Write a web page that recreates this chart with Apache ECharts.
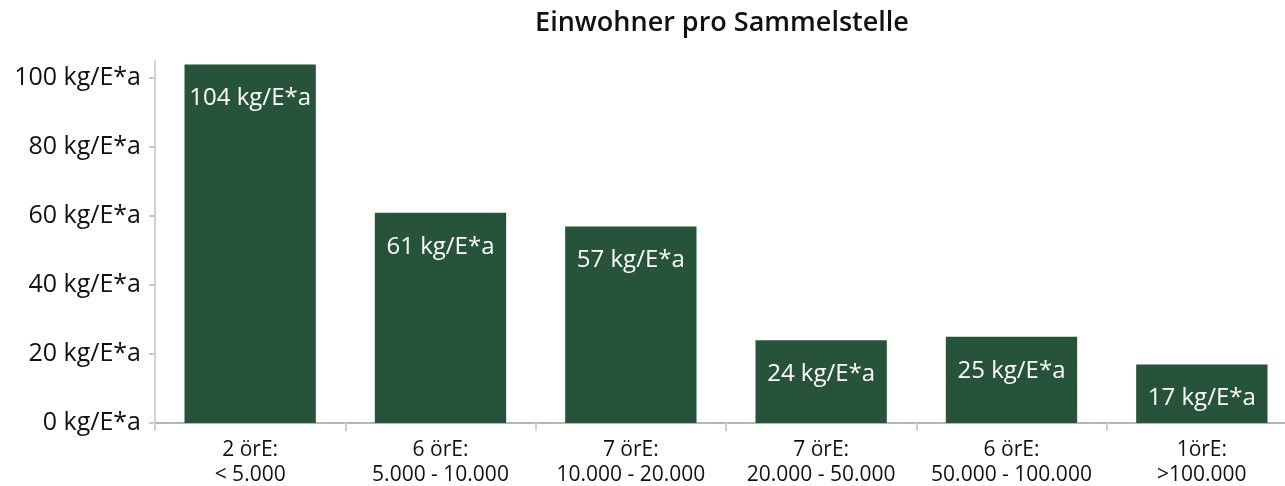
<!DOCTYPE html>
<html>
<head>
<meta charset="utf-8">
<style>
  html, body { margin: 0; padding: 0; background: #fff; }
  #chart { width: 1285px; height: 486px; }
</style>
<script src="https://cdn.jsdelivr.net/npm/echarts@6/dist/echarts.min.js"></script>
</head>
<body>
<div id="chart"></div>
<script>
// Collection volume per inhabitant, grouped by municipality size class
const title = 'Einwohner pro Sammelstelle';
const categories = [
  '2 örE:\n< 5.000',
  '6 örE:\n5.000 - 10.000',
  '7 örE:\n10.000 - 20.000',
  '7 örE:\n20.000 - 50.000',
  '6 örE:\n50.000 - 100.000',
  '1örE:\n>100.000'
];
const values = [104, 61, 57, 24, 25, 17];
const yTicks = [0, 20, 40, 60, 80, 100];
const unit = ' kg/E*a';

const font = '"Open Sans", "Noto Sans", sans-serif';
const chart = echarts.init(document.getElementById('chart'));

chart.setOption({
  backgroundColor: '#ffffff',
  animation: false,
  title: {
    text: title,
    left: 717,
    top: 5,
    textAlign: 'center',
    textStyle: { fontFamily: font, fontSize: 27, fontWeight: 600, color: '#111' }
  },
  grid: {
    left: 155, top: 61, width: 1142, height: 362,
    containLabel: false, outerBoundsMode: 'none'
  },
  xAxis: {
    type: 'category',
    data: categories,
    axisLine: { lineStyle: { color: '#b5b5b5', width: 2 } },
    axisTick: { show: true, length: 8, interval: 0, lineStyle: { color: '#d0d0d0', width: 2 } },
    axisLabel: {
      interval: 0,
      fontFamily: font, fontSize: 21, color: '#111', lineHeight: 25, margin: 15
    }
  },
  yAxis: {
    type: 'value',
    min: 0,
    max: 105,
    interval: 20,
    splitLine: { show: false },
    axisLine: { show: true, lineStyle: { color: '#d2d2d2', width: 2 } },
    axisTick: { show: true, length: 6, customValues: yTicks, lineStyle: { color: '#c8c8c8', width: 2 } },
    axisLabel: {
      customValues: yTicks,
      fontFamily: font, fontSize: 25, color: '#111', margin: 14,
      formatter: v => v + unit
    }
  },
  series: [{
    type: 'bar',
    data: values,
    barWidth: '69%',
    clip: false,
    itemStyle: { color: '#27533b' },
    label: {
      show: true,
      position: 'insideTop',
      distance: 22,
      fontFamily: font,
      fontSize: 24,
      color: '#ffffff',
      formatter: p => p.value + unit
    }
  }]
});
</script>
</body>
</html>
